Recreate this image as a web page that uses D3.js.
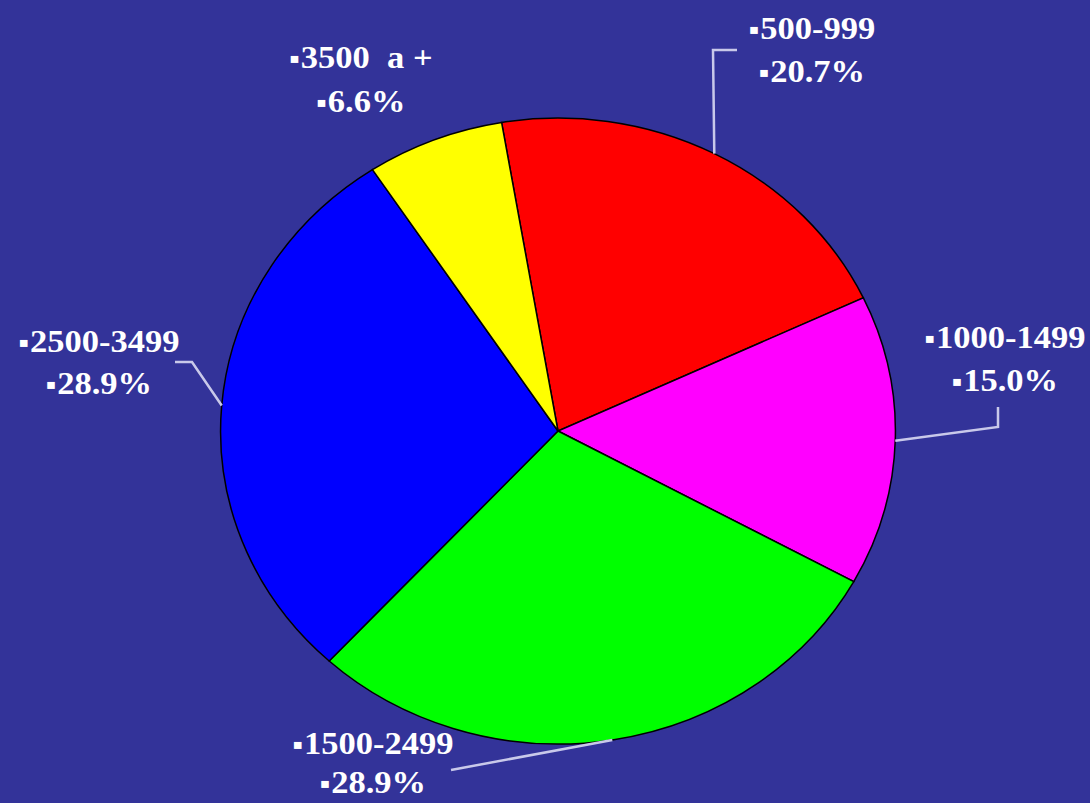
<!DOCTYPE html>
<html>
<head>
<meta charset="utf-8">
<script src="https://cdn.jsdelivr.net/npm/d3@7"></script>
<style>
  html, body { margin: 0; padding: 0; background: #333399; }
  svg { display: block; }
</style>
</head>
<body>
<svg id="chart" width="1090" height="803"></svg>
<script>
// Share of households by income band
const categories = ["500-999", "1000-1499", "1500-2499", "2500-3499", "3500  a +"];
const values = [20.7, 15.0, 28.9, 28.9, 6.6];
const colors = ["#ff0000", "#ff00ff", "#00ff00", "#0000ff", "#ffff00"];

const W = 1090, H = 803;
const cx = 558, cy = 431, R = 313, stretch = 1.078;

// label placement: centre x, first baseline, line gap, and the leader elbow (null = no leader)
const labelPos = [
  { x: 812, y: 39, gap: 43, line: [[713, 50], [737, 50]] },
  { x: 1005, y: 348, gap: 43, line: [[998, 427], [998, 407]] },
  { x: 373, y: 754, gap: 39, line: [[451, 770]] },
  { x: 99, y: 352, gap: 42, line: [[192, 362], [175, 362]] },
  { x: 361, y: 68, gap: 44, line: null }
];

const svg = d3.select("#chart");
svg.append("rect").attr("width", W).attr("height", H).attr("fill", "#333399");

const pie = d3.pie().sort(null).value(d => d).startAngle(-0.168).endAngle(-0.168 + 2 * Math.PI);
const arcs = pie(values);
const arc = d3.arc().innerRadius(0).outerRadius(R);

const g = svg.append("g").attr("transform", `translate(${cx},${cy}) scale(${stretch},1)`);
g.selectAll("path.slice")
  .data(arcs)
  .join("path")
  .attr("class", "slice")
  .attr("d", arc)
  .attr("fill", (d, i) => colors[i])
  .attr("stroke", "#000")
  .attr("stroke-width", 1.5)
  .attr("vector-effect", "non-scaling-stroke");

// leader lines from the slice's outer edge midpoint to the label
const toScreen = p => [cx + p[0] * stretch, cy + p[1]];
const line = d3.line();
arcs.forEach((d, i) => {
  const lp = labelPos[i];
  if (!lp.line) return;
  const a = (d.startAngle + d.endAngle) / 2;
  const start = toScreen([Math.sin(a) * R, -Math.cos(a) * R]);
  svg.append("path")
    .attr("d", line([start, ...lp.line]))
    .attr("fill", "none")
    .attr("stroke", "#c9c9ea")
    .attr("stroke-width", 2.5);
});

const fmt = d3.format(".1f");
const labels = svg.selectAll("g.label")
  .data(arcs)
  .join("g")
  .attr("class", "label");

labels.each(function(d, i) {
  const lp = labelPos[i];
  const lines = [categories[i], fmt(d.data) + "%"];
  lines.forEach((txt, k) => {
    const t = d3.select(this).append("text")
      .attr("transform", `translate(${lp.x},${lp.y + k * lp.gap}) scale(${stretch},1)`)
      .attr("text-anchor", "middle")
      .attr("fill", "#ffffff")
      .attr("font-family", "'Liberation Serif', 'Times New Roman', serif")
      .attr("font-weight", "bold")
      .attr("font-size", 32)
      .style("white-space", "pre");
    t.append("tspan")
      .attr("font-family", "'DejaVu Sans', sans-serif")
      .attr("font-size", 14)
      .attr("dy", -5)
      .text("\u25AA");
    t.append("tspan")
      .attr("dy", 5)
      .attr("dx", 1)
      .text(txt);
  });
});
</script>
</body>
</html>
